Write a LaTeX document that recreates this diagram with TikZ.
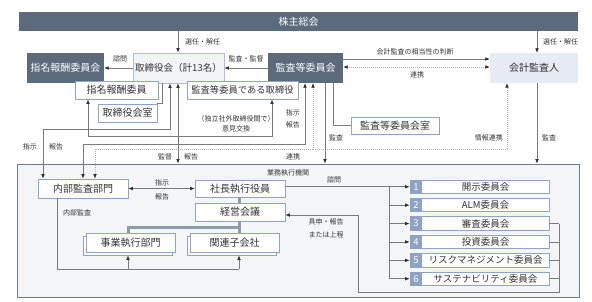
\documentclass[tikz,border=0pt]{standalone}
\usepackage{fontspec}
\setmainfont{Noto Sans CJK JP}
\usetikzlibrary{arrows.meta,fit}
\definecolor{dark}{HTML}{5B6B7C}
\definecolor{bbord}{HTML}{8FA3C4}
\definecolor{numf}{HTML}{8EA2C2}
\definecolor{lgray}{HTML}{F2F3F5}
\definecolor{acctf}{HTML}{E6EAF2}
\definecolor{bigf}{HTML}{F4F5F7}
\definecolor{bigb}{HTML}{6E7D8D}
\definecolor{ln}{HTML}{7A7A7A}
\definecolor{txt}{HTML}{333333}
\definecolor{thk}{HTML}{8E9BA8}
\newcommand\bt[3][]{\node[btxt,#1] (#2T) at ([yshift=-3.6pt]#2.center) {#3};}
\begin{document}
\begin{tikzpicture}[x=1pt,y=-1pt,
  box/.style={inner sep=0pt},
  dbox/.style={box, fill=dark},
  wbox/.style={box, fill=white, draw=bbord, line width=0.9pt},
  btxt/.style={anchor=base, inner sep=0pt, font=\fontsize{10}{12}\selectfont, text=txt},
  lbl/.style={anchor=base, yshift=-2.5pt, font=\fontsize{7}{8}\selectfont, text=txt, inner sep=0pt},
  conn/.style={draw=ln, line width=0.6pt},
  arr/.style={conn, -{Latex[length=4.5pt,width=3.6pt,color=black!85]}},
  darr/.style={conn, {Latex[length=4.5pt,width=3.6pt,color=black!85]}-{Latex[length=4.5pt,width=3.6pt,color=black!85]}},
  dots/.style={draw=ln!60, dash pattern=on 0.8pt off 1.2pt},
  thick line/.style={draw=thk, line width=3pt}
]
\useasboundingbox (0,0) rectangle (592,302);

% columns and rows
\coordinate (xa) at (178,0);
\coordinate (xb) at (537,0);
\coordinate (xc) at (170,0);
\coordinate (xd) at (162,0);
\coordinate (xe) at (88,0);
\coordinate (xf) at (272,0);
\coordinate (xg) at (43,0);
\coordinate (xh) at (305,0);
\coordinate (xi) at (83,0);
\coordinate (xj) at (313,0);
\coordinate (xk) at (95,0);
\coordinate (xl) at (507,0);
\coordinate (xm) at (325,0);
\coordinate (xn) at (333,0);
\coordinate (xo) at (57,0);
\coordinate (xp) at (128,0);
\coordinate (xq) at (239,0);
\coordinate (xr) at (389,0);
\coordinate (xs) at (559,0);
\coordinate (xt) at (358,0);
\coordinate (y59) at (0,59);
\coordinate (y67) at (0,67);
\coordinate (y129) at (0,129);
\coordinate (y136) at (0,136);
\coordinate (y144) at (0,144);
\coordinate (y149) at (0,149);
\coordinate (y227) at (0,227.5);
\coordinate (y269) at (0,269);
\coordinate (y292) at (0,292);
\coordinate (y215) at (0,215);

% big executive box
\node[draw=bigb, fill=bigf, line width=0.9pt, inner sep=0pt, fit={(17,164)(579,297)}] (exec) {};

% top nodes
\node[dbox, fit={(19,12)(578,31)}] (bar) {};
\bt[text=white]{bar}{株主総会}
\node[dbox, fit={(27,53)(104,83)}] (nomc) {};
\bt[text=white]{nomc}{指名報酬委員会}
\node[box, fill=lgray, draw=bbord!70, line width=0.8pt, fit={(133,53)(224,83)}] (bod) {};
\bt[font=\fontsize{9.5}{11}\selectfont]{bod}{取締役会（計13名）}
\node[dbox, fit={(268,53)(343,83)}] (aud) {};
\bt[text=white]{aud}{監査等委員会}
\node[box, fill=acctf, fit={(490,53)(578,83)}] (acct) {};
\bt{acct}{会計監査人}

\node[wbox, fit={(75,81)(158,99)}] (nomm) {};
\bt{nomm}{指名報酬委員}
\node[wbox, fit={(98,104)(157,122)}] (bodoff) {};
\bt{bodoff}{取締役会室}
\node[wbox, fit={(187,81)(298,99)}] (auddir) {};
\bt[font=\fontsize{9.3}{11}\selectfont]{auddir}{監査等委員である取締役}
\node[wbox, fit={(351,117)(439,134)}] (audoff) {};
\bt{audoff}{監査等委員会室}

% inner nodes
\node[wbox, fit={(38,179)(128,198)}] (ia) {};
\bt{ia}{内部監査部門}
\node[wbox, fit={(195,180)(285,197)}] (pres) {};
\bt{pres}{社長執行役員}
\node[wbox, fit={(195,203)(285,221)}] (mgmt) {};
\bt{mgmt}{経営会議}
\node[wbox, fit={(83,236)(172,255)}] (bizb) {};
\node[wbox, fit={(86,233)(175,252)}] (biz) {};
\bt{biz}{事業執行部門}
\node[wbox, fit={(187,236)(276,255)}] (subb) {};
\node[wbox, fit={(190,233)(279,252)}] (sub) {};
\bt{sub}{関連子会社}

% committees
\foreach \i/\t in {1/開示委員会,2/ALM委員会,3/審査委員会,4/投資委員会,5/リスクマネジメント委員会,6/サステナビリティ委員会}{
  \pgfmathsetmacro\yt{180+(\i-1)*18.4}
  \pgfmathsetmacro\yb{\yt+13.5}
  \node[wbox, fit={(410,\yt)(549,\yb)}] (c\i) {};
  \node[fill=numf, inner sep=0pt, fit={(410,\yt)(422,\yb)}] (n\i) {};
  \node[btxt, text=white, font=\fontsize{9.5}{11}\selectfont] (n\i T) at ([yshift=-3.4pt]n\i.center) {\i};
  \node[btxt, font=\fontsize{9.5}{11}\selectfont] (t\i) at ([xshift=6pt, yshift=-3.5pt]c\i.center) {\t};
}

% top connectors
\draw[conn] (bod.south -| xd) |- (bodoff.north east);
\draw[darr] (bod.south -| xc) -- (xc |- y129) -- (xg |- y129) -- (ia.north -| xg);
\draw[arr] (bar.south -| xa) -- (bod.north -| xa);
\draw[arr] (bar.south -| xb) -- (acct.north -| xb);
\draw[arr] (bod.west) -- (nomc.east);
\draw[arr] (aud.west) -- (bod.east);
\draw[arr] (aud.east |- y59) -- (acct.west |- y59);
\draw[darr, dots] (aud.east |- y67) -- (acct.west |- y67);
\draw[darr] (nomm.south -| xe) -- (xe |- y136) -- (xf |- y136) -- (auddir.south -| xf);
\draw[darr] (aud.south -| xh) -- (xh |- y144) -- (xi |- y144) -- (ia.north -| xi);
\draw[darr, dots] (aud.south -| xj) -- (xj |- y149) -- (xk |- y149) -- (ia.north -| xk);
\draw[arr, dots] (xj |- y149) -- (xl |- y149) -- (acct.south -| xl);
\draw[darr] (bod.south -| xa) -- (exec.north -| xa);
\draw[arr] (aud.south -| xm) -- (exec.north -| xm);
\draw[conn] (aud.south -| xn) |- (audoff.west);
\draw[arr] (acct.south -| xb) -- (exec.north -| xb);

% inner connectors
\draw[darr] (ia.east) -- (pres.west);
\draw[thick line] (pres.south -| xq) -- (mgmt.north -| xq);
\draw[thick line] (mgmt.south -| xq) -- (xq |- y227) -| (biz.north -| xp);
\draw[thick line] (xq |- y227) -- (sub.north -| xq);
\draw[conn] (ia.south -| xo) |- (xq |- y269);
\draw[arr] (xp |- y269) -- (bizb.south -| xp);
\draw[arr] (xq |- y269) -- (subb.south -| xq);
\draw[conn] (pres.east |- c1.west) -- (xr |- c1.west) -- (xr |- c6.west);
\foreach \i in {1,...,6}{\draw[arr] (xr |- c\i.west) -- (c\i.west);}
\foreach \i in {3,...,6}{\draw[conn] (c\i.east) -- (xs |- c\i.east);}
\draw[arr] (xs |- c3.east) -- (xs |- y292) -- (xt |- y292) -- (xt |- y215) -- (mgmt.east |- y215);

% labels
\node[lbl, anchor=base west] at (185,42) {選任・解任};
\node[lbl, anchor=base west] at (543,42) {選任・解任};
\node[lbl] at (120,59) {諮問};
\node[lbl] at (246,59) {監査・監督};
\node[lbl] at (415,52) {会計監査の相当性の判断};
\node[lbl] at (417,75) {連携};
\node[lbl, anchor=base east] at (300,113) {指示};
\node[lbl, anchor=base east] at (300,125) {報告};
\node[lbl] at (236,119) {（独立社外取締役間で）};
\node[lbl] at (236,129) {意見交換};
\node[lbl] at (30,147) {指示};
\node[lbl] at (56,147) {報告};
\node[lbl] at (165,157) {監督};
\node[lbl] at (191,157) {報告};
\node[lbl] at (293,157) {連携};
\node[lbl, anchor=base west] at (329,138) {監査};
\node[lbl, anchor=base east] at (503,138) {情報連携};
\node[lbl, anchor=base west] at (542,138) {監査};
\node[lbl] at (288,173) {業務執行機関};
\node[lbl] at (162,183) {指示};
\node[lbl] at (162,197) {報告};
\node[lbl, anchor=base west] at (63,213) {内部監査};
\node[lbl] at (334,180) {諮問};
\node[lbl] at (326,222) {具申・報告};
\node[lbl] at (326,235) {または上程};
\end{tikzpicture}
\end{document}
